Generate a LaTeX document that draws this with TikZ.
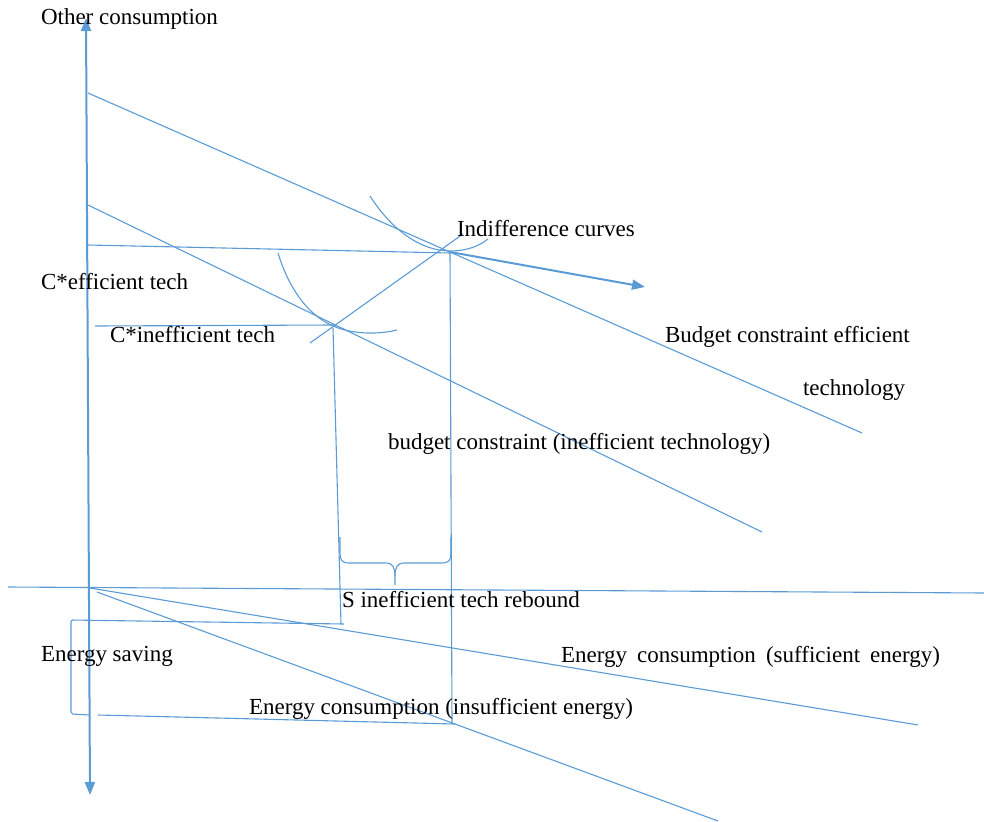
\documentclass[tikz,border=0pt]{standalone}
\usepackage{fontspec}
\setmainfont{Liberation Serif}
\usetikzlibrary{arrows.meta}
\definecolor{lineblue}{RGB}{91,155,213}
\tikzset{
  thin line/.style={draw=lineblue, line width=1.1pt},
  thick line/.style={draw=lineblue, line width=2pt},
  tip/.style={-{Triangle[width=10pt,length=13pt]}},
  label/.style={anchor=base west, inner sep=0pt, outer sep=0pt, text=black,
    font=\fontsize{23}{27}\selectfont}
}
\begin{document}
\begin{tikzpicture}[x=1pt,y=-1pt]
\useasboundingbox (0,0) rectangle (984,821);
% coordinates
\coordinate (ytop) at (86,18);
\coordinate (ybot) at (90,795);
\coordinate (yo) at (88,589);
\coordinate (xl) at (8,587);
\coordinate (xr) at (984,593);
\coordinate (be1) at (88,93);
\coordinate (be2) at (862,433);
\coordinate (bi1) at (88,205);
\coordinate (bi2) at (762,532);
\coordinate (ce1) at (88,245);
\coordinate (ce2) at (450,253);
\coordinate (ci1) at (95,326);
\coordinate (ci2) at (334,325);
\coordinate (ex1) at (310,343);
\coordinate (ex2) at (463,234);
\coordinate (te) at (450,252);
\coordinate (ve2) at (452,724);
\coordinate (vi1) at (333,328);
\coordinate (vi2) at (341,624);
\coordinate (arr) at (645,287);
\coordinate (es1) at (90,588);
\coordinate (es2) at (918,725);
\coordinate (ei1) at (97,592);
\coordinate (ei2) at (718,821);
\coordinate (bk1) at (344,624);
\coordinate (bk2) at (71,620);
\coordinate (bk3) at (71,714);
\coordinate (bk4) at (90,715);
\coordinate (bb1) at (98,715);
\coordinate (bb2) at (455,724);

% axes
\draw[thick line, {Triangle[width=10pt,length=13pt]}-{Triangle[width=10pt,length=13pt]}] (ytop) -- (ybot);
\draw[thin line] (xl) -- (xr);

% budget lines
\draw[thin line] (be1) -- (be2);
\draw[thin line] (bi1) -- (bi2);
\draw[thin line] (ce1) -- (ce2);
\draw[thin line] (ci1) -- (ci2);
\draw[thin line] (ex1) -- (ex2);

% indifference curves
\draw[thin line] (370,196) .. controls (395,235) and (425,251) .. (450,251)
  .. controls (465,251) and (478,247) .. (488,239);
\draw[thin line] (278,253) .. controls (290,292) and (312,322) .. (345,330)
  .. controls (365,335) and (385,333) .. (397,330);

% arrow
\draw[thick line, tip] (te) -- (arr);

% verticals
\draw[thin line] (te) -- (ve2);
\draw[thin line] (vi1) -- (vi2);

% brace
\draw[thin line] (340,537) -- (340,553) .. controls (340,560) and (342,563) .. (349,563)
  -- (386,563) .. controls (393,563) and (395,568) .. (395,576) -- (395,585);
\draw[thin line] (395,576) .. controls (395,568) and (397,563) .. (404,563)
  -- (442,563) .. controls (449,563) and (451,560) .. (451,553) -- (451,537);

% energy lines
\draw[thin line] (es1) -- (es2);
\draw[thin line] (ei1) -- (ei2);
\draw[thin line, rounded corners=2pt] (bk1) -- (bk2) -- (bk3) -- (bk4);
\draw[thin line] (bb1) -- (bb2);

% labels
\node[label] (l1) at (41,25) {Other consumption};
\node[label] (l2) at (41,289) {C*efficient tech};
\node[label] (l3) at (457,236) {Indifference curves};
\node[label] (l4) at (110,342) {C*inefficient tech};
\node[label] (l5) at (665,342) {Budget constraint efficient};
\node[label] (l6) at (803,395) {technology};
\node[label] (l7) at (388,449) {budget constraint (inefficient technology)};
\node[label] (l8) at (342,607) {S inefficient tech rebound};
\node[label] (l9) at (41,661) {Energy saving};
\node[label] (l10) at (561,662) {\makebox[379pt][s]{Energy consumption (sufficient energy)}};
\node[label] (l11) at (249,714) {Energy consumption (insufficient energy)};
\end{tikzpicture}
\end{document}
